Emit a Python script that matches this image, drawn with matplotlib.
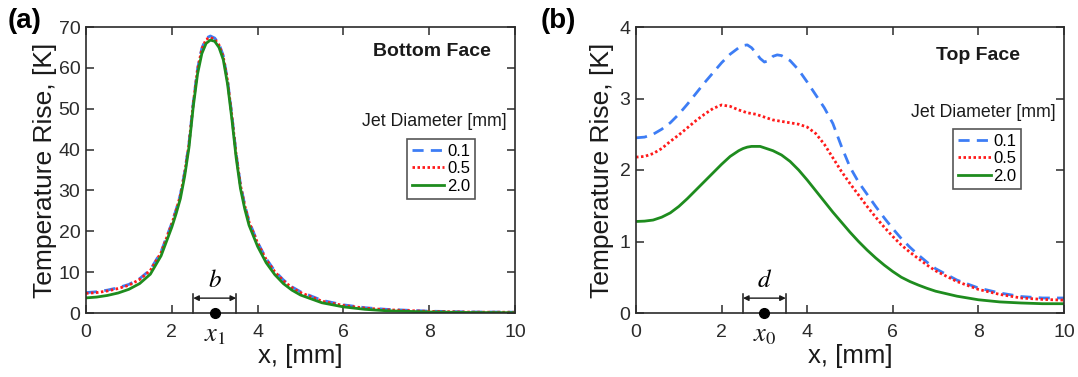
import matplotlib
matplotlib.use("Agg")
import matplotlib.pyplot as plt
import matplotlib.transforms as mtransforms

plt.rcParams['font.family'] = ['Liberation Sans', 'DejaVu Sans']

# ---------------- data ----------------
series_labels = ["0.1", "0.5", "2.0"]

x_a = [0, 0.25, 0.5, 0.75, 1.0, 1.25, 1.5, 1.75, 2.0, 2.1,
       2.2, 2.3, 2.4, 2.5, 2.6, 2.7, 2.8, 2.9, 3.0, 3.1,
       3.2, 3.3, 3.4, 3.5, 3.6, 3.7, 3.8, 4.0, 4.2, 4.4,
       4.6, 4.8, 5.0, 5.5, 6.0, 6.5, 7.0, 8.0, 9.0, 10.0]
bottom_01 = [5.0, 5.2, 5.6, 6.2, 7.0, 8.4, 10.6, 15.0, 22.0, 25.3,
             29.0, 34.5, 41.5, 51.5, 59.8, 64.8, 67.3, 67.8, 67.3, 65.9,
             63.0, 57.0, 48.5, 39.0, 31.5, 26.5, 22.5, 17.3, 13.3, 10.3,
             8.1, 6.4, 5.2, 3.1, 2.0, 1.3, 0.9, 0.45, 0.25, 0.2]
bottom_05 = [4.8, 5.0, 5.4, 6.0, 6.8, 8.2, 10.4, 14.8, 21.8, 25.1,
             28.8, 34.3, 41.3, 51.3, 59.6, 64.6, 67.0, 67.4, 67.0, 65.6,
             62.7, 56.8, 48.3, 38.8, 31.3, 26.3, 22.3, 17.1, 13.1, 10.1,
             7.9, 6.2, 5.0, 2.9, 1.85, 1.2, 0.8, 0.4, 0.22, 0.18]
bottom_20 = [3.7, 3.9, 4.3, 4.9, 5.8, 7.2, 9.5, 14.0, 21.0, 24.3,
             28.0, 33.5, 40.5, 50.5, 58.5, 63.5, 66.0, 66.8, 66.5, 65.0,
             62.0, 56.0, 47.5, 38.0, 30.5, 25.5, 21.5, 16.3, 12.3, 9.4,
             7.2, 5.6, 4.4, 2.5, 1.5, 0.9, 0.55, 0.25, 0.12, 0.08]

x_b = [0, 0.2, 0.4, 0.6, 0.8, 1.0, 1.2, 1.4, 1.6, 1.8,
       2.0, 2.2, 2.4, 2.5, 2.6, 2.7, 2.8, 2.9, 3.0, 3.1,
       3.2, 3.3, 3.4, 3.6, 3.8, 4.0, 4.2, 4.4, 4.6, 4.8,
       5.0, 5.2, 5.4, 5.6, 5.8, 6.0, 6.2, 6.4, 6.6, 6.8,
       7.0, 7.5, 8.0, 8.5, 9.0, 9.5, 10.0]
top_01 = [2.45, 2.46, 2.50, 2.57, 2.66, 2.78, 2.92, 3.07, 3.22, 3.36,
          3.50, 3.62, 3.71, 3.74, 3.75, 3.71, 3.64, 3.56, 3.51, 3.53,
          3.59, 3.61, 3.60, 3.53, 3.40, 3.23, 3.05, 2.87, 2.65, 2.33,
          2.04, 1.83, 1.66, 1.49, 1.33, 1.18, 1.04, 0.92, 0.81, 0.71,
          0.62, 0.46, 0.35, 0.28, 0.23, 0.21, 0.21]
top_05 = [2.18, 2.19, 2.23, 2.30, 2.40, 2.49, 2.59, 2.69, 2.78, 2.86,
          2.91, 2.89, 2.84, 2.82, 2.80, 2.79, 2.78, 2.76, 2.74, 2.72,
          2.70, 2.69, 2.68, 2.66, 2.64, 2.60, 2.51, 2.36, 2.17, 1.98,
          1.81, 1.65, 1.49, 1.34, 1.20, 1.07, 0.95, 0.85, 0.76, 0.67,
          0.59, 0.44, 0.33, 0.26, 0.21, 0.19, 0.18]
top_20 = [1.28, 1.285, 1.30, 1.34, 1.40, 1.49, 1.60, 1.72, 1.84, 1.96,
          2.08, 2.19, 2.27, 2.30, 2.32, 2.33, 2.33, 2.33, 2.31, 2.29,
          2.27, 2.24, 2.21, 2.12, 2.00, 1.86, 1.71, 1.56, 1.41, 1.27,
          1.13, 1.00, 0.88, 0.77, 0.67, 0.58, 0.50, 0.44, 0.39, 0.345,
          0.305, 0.235, 0.185, 0.155, 0.14, 0.13, 0.13]

xticks = [0, 2, 4, 6, 8, 10]
yticks_a = [0, 10, 20, 30, 40, 50, 60, 70]
yticks_b = [0, 1, 2, 3, 4]

# ---------------- styling ----------------
W, H = 1078, 377
fig = plt.figure(figsize=(W / 100, H / 100), dpi=100)

blue = '#3d7df5'
red = '#ff1a1a'
green = '#1e8c1e'
styles = [dict(color=blue, lw=2.0, ls=(0, (4, 2.6))),
          dict(color=red, lw=2.0, ls=(0, (0.9, 0.9))),
          dict(color=green, lw=2.0, ls='-')]
spine_c = '#2b2b2b'


def make_ax(left_px, right_px, yticks, ylim, ylab_x):
    ax = fig.add_axes([left_px / W, (H - 313) / H, (right_px - left_px) / W, 286 / H])
    ax.set_xlim(0, 10)
    ax.set_ylim(*ylim)
    ax.set_xticks(xticks)
    ax.set_yticks(yticks)
    ax.tick_params(direction='in', top=True, right=True, length=6, width=1.1,
                   labelsize=14, colors=spine_c)
    ax.tick_params(axis='x', pad=8)
    ax.tick_params(axis='y', pad=4)
    for s in ax.spines.values():
        s.set_color(spine_c)
        s.set_linewidth(1.2)
    ax.set_xlabel('x, [mm]', fontsize=18.5, labelpad=2, color='#1a1a1a')
    ax.set_ylabel('Temperature Rise, [K]', fontsize=19, color='#1a1a1a')
    ax.yaxis.set_label_coords(ylab_x, 0.5)
    return ax


def annotate_width(ax, letter, sub):
    tr = mtransforms.blended_transform_factory(ax.transData, ax.transAxes)
    x_lo, x_hi, x_c = 2.5, 3.5, 3.0
    for xv in (x_lo, x_hi):
        ax.plot([xv, xv], [0, 0.068], color='#1a1a1a', lw=1.1, transform=tr, clip_on=False)
    ax.annotate('', xy=(x_lo, 0.052), xytext=(x_hi, 0.052), xycoords=tr, textcoords=tr,
                arrowprops=dict(arrowstyle='<|-|>', color='#1a1a1a', lw=1.0,
                                mutation_scale=8, shrinkA=0, shrinkB=0))
    ax.text(x_c, 0.075, '$' + letter + '$', transform=tr, ha='center', va='bottom',
            fontsize=18, math_fontfamily='stix')
    ax.plot([x_c], [0], 'o', color='black', ms=7, transform=tr, clip_on=False, zorder=5)
    ax.text(x_c, -0.035, '$x_' + sub + '$', transform=tr, ha='center', va='top',
            fontsize=19, math_fontfamily='stix', color='#1a1a1a')


def add_legend(ax, anchor):
    leg = ax.legend(loc='upper left', bbox_to_anchor=anchor, borderaxespad=0,
                    fontsize=12, frameon=True, fancybox=False, handlelength=1.95,
                    handletextpad=0.15, borderpad=0.3, labelspacing=0.16)
    leg.get_frame().set_edgecolor('#2b2b2b')
    leg.get_frame().set_linewidth(1.2)
    return leg


# Panel (a)
ax1 = make_ax(86, 515, yticks_a, (0, 70), -0.068)
for y, lab, st in zip([bottom_01, bottom_05, bottom_20], series_labels, styles):
    ax1.plot(x_a, y, label=lab, **st)
annotate_width(ax1, 'b', '1')
ax1.text(0.806, 0.915, 'Bottom Face', transform=ax1.transAxes, ha='center', va='center',
         fontsize=14, fontweight='bold', color='#1a1a1a')
ax1.text(0.813, 0.668, 'Jet Diameter [mm]', transform=ax1.transAxes, ha='center',
         va='center', fontsize=12.8, color='#1a1a1a')
add_legend(ax1, (0.748, 0.61))

# Panel (b)
ax2 = make_ax(636, 1064, yticks_b, (0, 4), -0.051)
for y, lab, st in zip([top_01, top_05, top_20], series_labels, styles):
    ax2.plot(x_b, y, label=lab, **st)
annotate_width(ax2, 'd', '0')
ax2.text(0.80, 0.90, 'Top Face', transform=ax2.transAxes, ha='center', va='center',
         fontsize=14, fontweight='bold', color='#1a1a1a')
ax2.text(0.812, 0.70, 'Jet Diameter [mm]', transform=ax2.transAxes, ha='center',
         va='center', fontsize=12.8, color='#1a1a1a')
add_legend(ax2, (0.741, 0.645))

fig.text(25 / W, 1 - 21 / H, '(a)', fontsize=20, fontweight='bold', ha='center', va='center')
fig.text(558 / W, 1 - 21 / H, '(b)', fontsize=20, fontweight='bold', ha='center', va='center')

fig.savefig('out.png', dpi=100, facecolor='white')
